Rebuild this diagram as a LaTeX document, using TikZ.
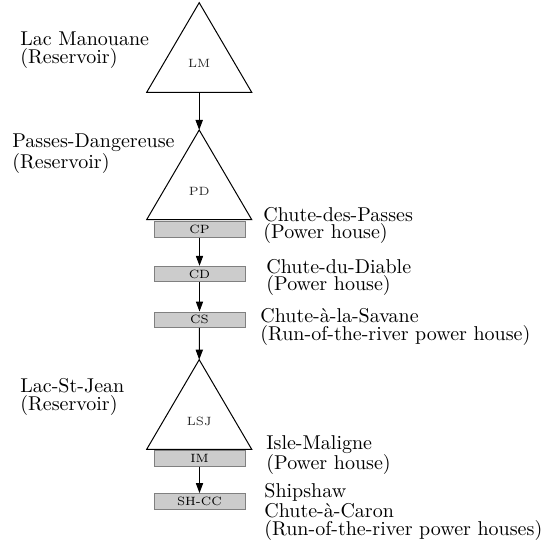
\documentclass[tikz,border=0pt]{standalone}
\usetikzlibrary{arrows.meta}
\begin{document}
\begin{tikzpicture}[x=0.5pt,y=-0.5pt,
  flow/.style={line width=0.5pt,-{Triangle[length=5pt,width=3.6pt]}},
  reservoir/.style={draw=black,line width=0.5pt,line join=miter},
  plant/.style={draw=gray,fill=gray!40,line width=0.4pt,minimum width=45.5pt,minimum height=7.8pt,inner sep=0pt,font=\fontsize{6}{7}\selectfont},
  reslabel/.style={font=\fontsize{6}{7}\selectfont,text=black!85,inner sep=0pt},
  desc/.style={anchor=north west,inner sep=0pt,align=left},
]
\useasboundingbox (0,0) rectangle (543,551);
% reservoirs (triangles)
\coordinate (LMtop) at (199.2,2.7);
\coordinate (LMl) at (146.7,92.3);
\coordinate (LMr) at (251.7,92.3);
\coordinate (LMbase) at (199.2,92.3);
\draw[reservoir] (LMtop) -- (LMr) -- (LMl) -- cycle;
\node[reslabel] (LM) at (199.2,63) {LM};

\coordinate (PDtop) at (199.2,130);
\coordinate (PDl) at (146.7,219.6);
\coordinate (PDr) at (251.7,219.6);
\draw[reservoir] (PDtop) -- (PDr) -- (PDl) -- cycle;
\node[reslabel] (PD) at (199.2,191) {PD};

\coordinate (LSJtop) at (199.2,359.7);
\coordinate (LSJl) at (146.7,449.3);
\coordinate (LSJr) at (251.7,449.3);
\draw[reservoir] (LSJtop) -- (LSJr) -- (LSJl) -- cycle;
\node[reslabel] (LSJ) at (199.2,421) {LSJ};

% power houses
\node[plant] (CP) at (199.5,229.5) {CP};
\node[plant] (CD) at (199.5,274) {CD};
\node[plant] (CS) at (199.5,319.7) {CS};
\node[plant] (IM) at (199.5,458.4) {IM};
\node[plant] (SHCC) at (199.5,501.3) {SH-CC};

% connectors
\draw[flow] (LMbase) -- (PDtop);
\draw[flow] (CP.south) -- (CD.north);
\draw[flow] (CD.south) -- (CS.north);
\draw[flow] (CS.south) -- (LSJtop);
\draw[flow] (IM.south) -- (SHCC.north);

% descriptions
\node[desc,font=\fontsize{10}{8.85}\selectfont] (tLM) at (20,31.3) {Lac Manouane\\(Reservoir)};
\node[desc,font=\fontsize{10}{8.7}\selectfont] (tPD) at (12,133.3) {Passes-Dangereuse\\(Reservoir)};
\node[desc,font=\fontsize{10}{8.8}\selectfont] (tLSJ) at (20,378) {Lac-St-Jean\\(Reservoir)};
\node[desc,font=\fontsize{10}{8.5}\selectfont] (tCP) at (263,207.1) {Chute-des-Passes\\(Power house)};
\node[desc,font=\fontsize{10}{8.5}\selectfont] (tCD) at (266,259.1) {Chute-du-Diable\\(Power house)};
\node[desc,font=\fontsize{10}{9}\selectfont] (tCS) at (260,308.1) {Chute-à-la-Savane\\(Run-of-the-river power house)};
\node[desc,font=\fontsize{10}{10}\selectfont] (tIM) at (266,435.1) {Isle-Maligne\\(Power house)};
\node[desc,font=\fontsize{10}{8.8}\selectfont] (tSH) at (264,483.1) {Shipshaw\\Chute-à-Caron\\(Run-of-the-river power houses)};
\end{tikzpicture}
\end{document}
